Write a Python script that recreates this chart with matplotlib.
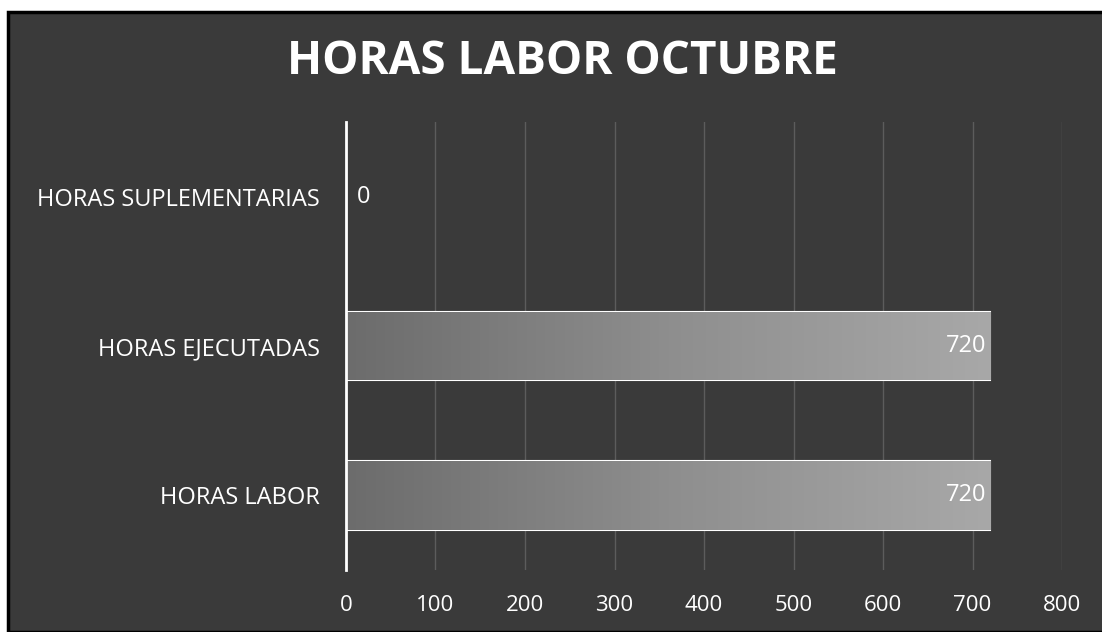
import numpy as np
import matplotlib.pyplot as plt
from matplotlib.patches import Rectangle
from matplotlib.colors import LinearSegmentedColormap

categorias = ["HORAS LABOR", "HORAS EJECUTADAS", "HORAS SUPLEMENTARIAS"]
horas = [720, 720, 0]
xticks = [0, 100, 200, 300, 400, 500, 600, 700, 800]

fondo = "#3a3a3a"
fuente = "Open Sans"

fig = plt.figure(figsize=(11.02, 6.32), dpi=100, facecolor="white")

# marco oscuro del grafico
fig.patches.append(Rectangle((8 / 1102, 0), 1, 1 - 12 / 632, transform=fig.transFigure,
                             facecolor=fondo, edgecolor="black", lw=2.5, zorder=-1))

ax = fig.add_axes([346 / 1102, 62 / 632, 716 / 1102, 448 / 632])
ax.set_facecolor("none")

ypos = np.arange(len(categorias))
barras = ax.barh(ypos, horas, height=0.46, color="#8c8c8c", edgecolor="white",
                 linewidth=1.5, zorder=3)

# degradado suave, mas claro hacia la derecha
cmap_barra = LinearSegmentedColormap.from_list("barra", ["#6c6c6c", "#8e8e8e", "#a8a8a8"])
grad = np.linspace(0, 1, 256).reshape(1, -1)
for b in barras:
    if b.get_width() <= 0:
        continue
    x0, y0 = b.get_x(), b.get_y()
    im = ax.imshow(grad, cmap=cmap_barra, aspect="auto",
                   extent=[x0, x0 + b.get_width(), y0, y0 + b.get_height()], zorder=3)
    im.set_clip_path(b)

for y, v in zip(ypos, horas):
    if v > 0:
        ax.text(v - 4, y, str(v), ha="right", va="center", color="white",
                fontsize=17, family=fuente, zorder=5)
    else:
        ax.text(12, y, str(v), ha="left", va="center", color="white",
                fontsize=17, family=fuente, zorder=5)

ax.set_xlim(0, 800)
ax.set_ylim(-0.5, 2.5)
ax.set_xticks(xticks)
ax.set_xticklabels([str(t) for t in xticks])
ax.set_yticks(ypos)
ax.set_yticklabels(categorias)
ax.xaxis.grid(True, color="#5c5c5c", lw=1, zorder=1)
ax.set_axisbelow(True)

for s in ["top", "right", "bottom"]:
    ax.spines[s].set_visible(False)
ax.spines["left"].set_color("white")
ax.spines["left"].set_linewidth(2)
ax.spines["left"].set_zorder(4)

ax.tick_params(axis="x", length=0, colors="white", labelsize=16, pad=18)
ax.tick_params(axis="y", length=0, colors="white", labelsize=17, pad=19)
for lbl in ax.get_xticklabels() + ax.get_yticklabels():
    lbl.set_family(fuente)

fig.text(562 / 1102, 1 - 62 / 632, "HORAS LABOR OCTUBRE", ha="center", va="center",
         color="white", fontsize=33, fontweight="bold", family=fuente)

fig.savefig("out.png", dpi=100, facecolor=fig.get_facecolor())
